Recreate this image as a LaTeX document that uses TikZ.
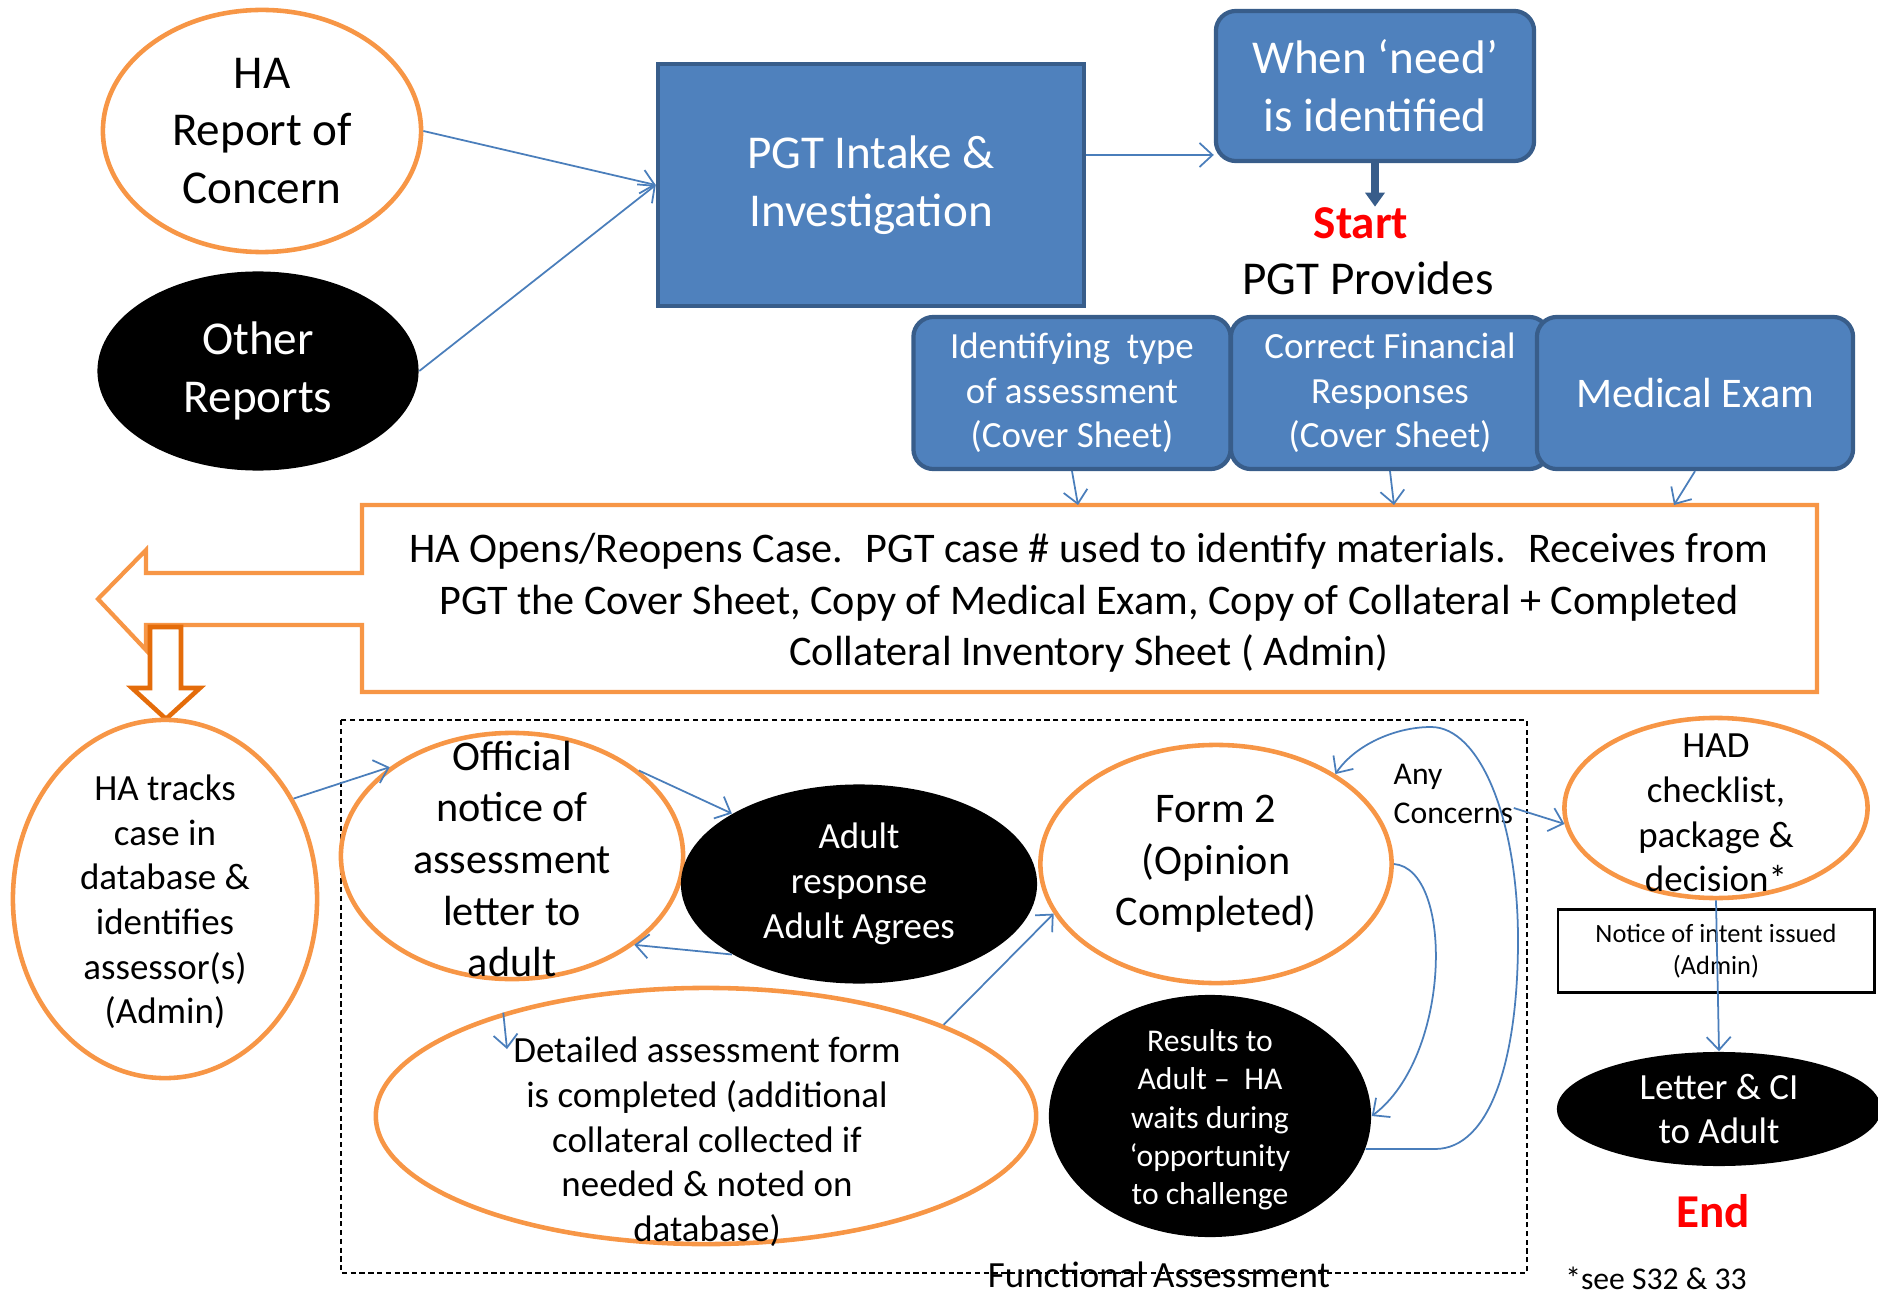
\documentclass[tikz,border=0pt]{standalone}
\usepackage{fontspec}
\setmainfont{Carlito}
\usetikzlibrary{shapes.geometric,arrows.meta}

\definecolor{haorange}{HTML}{F79646}
\definecolor{deeporange}{HTML}{E46C0A}
\definecolor{pgtblue}{HTML}{4F81BD}
\definecolor{pgtedge}{HTML}{385D8A}
\definecolor{linkblue}{HTML}{4A7EBB}

\begin{document}
\begin{tikzpicture}[x=0.01cm,y=-0.01cm,
every node/.append style={align=center,inner sep=0pt},
big/.style={font=\fontsize{13.4}{16.4}\selectfont},
mid/.style={font=\fontsize{12}{14.7}\selectfont},
small/.style={font=\fontsize{10.5}{12.7}\selectfont},
tiny/.style={font=\fontsize{9}{10.9}\selectfont},
note/.style={font=\fontsize{7.5}{9}\selectfont},
oval/.style={ellipse,draw=haorange,line width=1.3pt,fill=white},
blackoval/.style={ellipse,fill=black,text=white},
pgtbox/.style={rectangle,draw=pgtedge,fill=pgtblue,line width=1.2pt,text=white},
pgtround/.style={pgtbox,rounded corners=0.2cm},
link/.style={draw=linkblue,line width=0.5pt,-{Straight Barb[length=1.3mm,width=2.4mm]}},
dashbox/.style={draw,line width=0.4pt,dash pattern=on 1.5pt off 1pt},
]
\useasboundingbox (0,0) rectangle (1878,1294);

\node[oval,big,minimum width=3.18cm,minimum height=2.42cm] (haconcern) at (262,131) {HA\\Report of\\Concern};
\node[blackoval,big,minimum width=3.21cm,minimum height=1.99cm] (otherrep) at (258,371) {Other\\Reports};
\node[pgtbox,big,minimum width=4.26cm,minimum height=2.42cm] (intake) at (871,185) {PGT Intake \&\\Investigation};
\node[pgtround,big,minimum width=3.18cm,minimum height=1.50cm] (need) at (1375,86) {When ‘need’\\is identified};
\node[big,text=red] (start) at (1361,223) {\bfseries Start};
\node[big] (provides) at (1368,278) {PGT Provides};

\node[pgtround,small,minimum width=3.17cm,minimum height=1.52cm] (typebox) at (1072,393) {Identifying~ type\\of assessment\\(Cover Sheet)};
\node[pgtround,small,minimum width=3.18cm,minimum height=1.52cm] (finbox) at (1390,393) {Correct Financial\\Responses\\(Cover Sheet)};
\node[pgtround,mid,minimum width=3.16cm,minimum height=1.52cm] (medbox) at (1695,393) {Medical Exam};

\draw[haorange,line width=1.2pt,fill=white] (362,505) -| (1817,692) -| (362,625) -| (146,650) -- (98,599) -- (146,550) |- (362,573) -- cycle;
\coordinate (casetop) at (1089,505);
\node[mid] (casebox) at (1089,603) {HA Opens/Reopens Case.~ PGT case \# used to identify materials.~ Receives from\\PGT the Cover Sheet, Copy of Medical Exam, Copy of Collateral + Completed\\Collateral Inventory Sheet ( Admin)};
\draw[deeporange,line width=1.3pt,fill=white] (150,627) -- (181,627) -- (181,688) -- (200,688) -- (166,719) -- (132,688) -- (150,688) -- cycle;

\node[oval,minimum width=3.04cm,minimum height=3.58cm] (hatrack) at (165,899) {};
\node[small] (hatrack-t) at (165,902) {HA tracks\\case in\\database \&\\identifies\\assessor(s)\\(Admin)};

\draw[dashbox] (341,720) rectangle (1527,1273);
\node[small,anchor=base] (funcass) at (1159,1287) {Functional Assessment};

\node[oval,minimum width=3.42cm,minimum height=2.46cm] (notice) at (512,856) {};
\node[mid] (notice-t) at (512,859) {Official\\notice of\\assessment\\letter to\\adult};
\node[blackoval,small,minimum width=3.56cm,minimum height=1.99cm] (adult) at (859,884) {Adult\\response\\Adult Agrees};
\node[oval,mid,minimum width=3.51cm,minimum height=2.38cm] (form2) at (1216,864) {Form 2\\(Opinion\\Completed)};
\node[oval,minimum width=6.60cm,minimum height=2.56cm] (detailed) at (706,1116) {};
\node[small] (detailed-t) at (707,1142) {Detailed assessment form\\is completed (additional\\collateral collected if\\needed \& noted on\\database)};
\node[blackoval,minimum width=3.22cm,minimum height=2.42cm] (results) at (1210,1116) {};
\node[tiny,text=white] (results-t) at (1210,1120) {Results to\\Adult –~ HA\\waits during\\‘opportunity\\to challenge};
\node[tiny,anchor=west,align=left] (concern) at (1393,794) {Any\\Concerns};

\node[oval,minimum width=3.03cm,minimum height=1.80cm] (had) at (1716,808) {};
\node[small] (had-t) at (1716,813) {HAD\\checklist,\\package \&\\decision*};
\node[draw,line width=0.8pt,note,minimum width=3.16cm,minimum height=0.83cm] (intent) at (1716,951) {Notice of intent issued\\(Admin)};
\node[blackoval,small,minimum width=3.24cm,minimum height=1.14cm] (letter) at (1719,1109) {Letter \& CI\\to Adult};
\node[big,text=red] (endlbl) at (1713,1211) {\bfseries End};
\node[tiny] (seenote) at (1656,1278) {*see S32 \& 33};

\draw[link] (haconcern.east) -- (intake.west);
\draw[link] (otherrep.east) -- (intake.west);
\draw[link] ([yshift=0.3cm]intake.east) -- ([yshift=0.3cm]intake.east -| need.west);
\draw[pgtedge,line width=2pt,-{Triangle[length=1.4mm,width=1.9mm]}] (need.south) -- (need.south |- start.north);
\draw[link] (typebox.south) -- ([xshift=0.06cm]typebox.south |- casetop);
\draw[link] (finbox.south) -- ([xshift=0.04cm]finbox.south |- casetop);
\draw[link] (medbox.south) -- ([xshift=-0.21cm]medbox.south |- casetop);

\draw[link] (hatrack.38) -- (notice.144);
\draw[link] (notice.34) -- (adult.151);
\draw[link] (adult.209) -- (notice.324);
\coordinate (detailin) at (507,1049);
\draw[link] (detailed.153) -- (detailin);
\draw[link] (detailed.21) -- (form2.197);
\draw[link] (form2.east) .. controls +(60,5) and +(80,-60) .. (results.east);
\draw[link] (results.-12) -- (1435,1149) .. controls (1490,1149) and (1518,1060) .. (1518,940) .. controls (1518,820) and (1480,727) .. (1431,727) .. controls (1395,727) and (1355,745) .. (form2.37);
\draw[link] ([yshift=-0.14cm]concern.east) -- (had.186);
\draw[link] (had.south) -- (letter.north);

\end{tikzpicture}
\end{document}
